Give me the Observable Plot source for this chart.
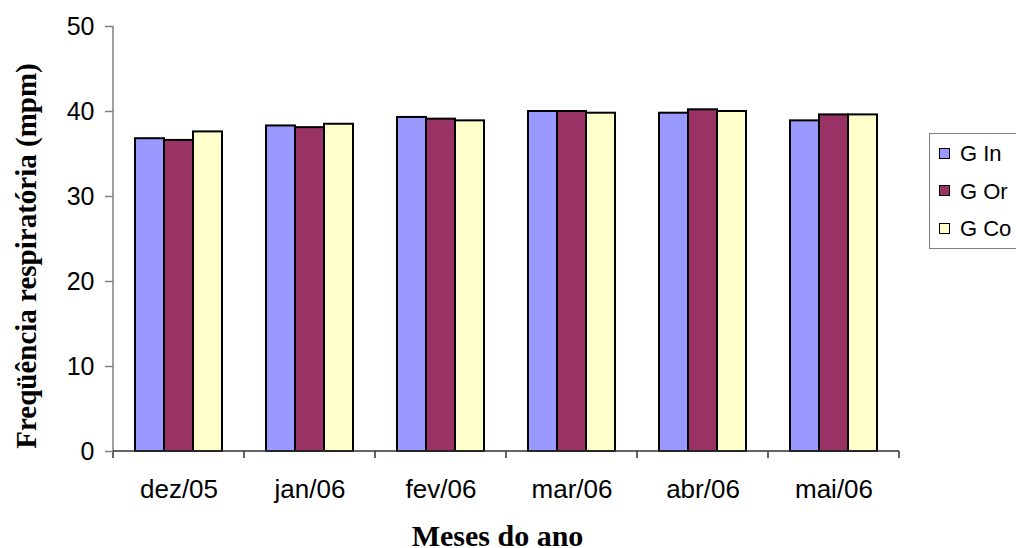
<!DOCTYPE html>
<html>
<head>
<meta charset="utf-8">
<script src="https://cdn.jsdelivr.net/npm/d3@7"></script>
<script src="https://cdn.jsdelivr.net/npm/@observablehq/plot@0.6"></script>
<style>
  html, body { margin: 0; padding: 0; background: #fff; overflow: hidden; }
  #chart { position: relative; width: 1016px; height: 548px; overflow: hidden; }
  #legend {
    position: absolute; left: 929px; top: 133px; width: 110px; height: 114px;
    border: 1px solid #808080; background: #fff;
    font-family: "Liberation Sans", Arial, sans-serif; font-size: 22px; color: #000;
  }
  #legend .item { position: absolute; left: 9px; height: 24px; line-height: 24px; white-space: nowrap; }
  #legend .swatch {
    display: inline-block; width: 9px; height: 9px; border: 1px solid #000;
    vertical-align: middle; margin-right: 10px; position: relative; top: -2px;
  }
</style>
</head>
<body>
<div id="chart"><div id="legend"></div></div>
<script>
// Respiratory rate (breaths per minute) by month for three groups
const months = ["dez/05", "jan/06", "fev/06", "mar/06", "abr/06", "mai/06"];
const series = ["G In", "G Or", "G Co"];
const gIn = [36.8, 38.3, 39.3, 40.0, 39.8, 38.9];
const gOr = [36.6, 38.1, 39.1, 40.0, 40.2, 39.6];
const gCo = [37.6, 38.5, 38.9, 39.8, 40.0, 39.6];
const yTicks = [0, 10, 20, 30, 40, 50];
const colors = ["#9999FF", "#993366", "#FFFFCC"];
const yTitle = "Freqüência respiratória (mpm)";
const xTitle = "Meses do ano";

const valuesBySeries = [gIn, gOr, gCo];
const rows = months.flatMap((month, i) =>
  series.map((s, j) => ({month, series: s, value: valuesBySeries[j][i]}))
);

// Axis lines plus the category-boundary ticks under the x axis,
// drawn once over the whole frame (not repeated per facet).
class AxisLines extends Plot.Mark {
  constructor() {
    super(undefined, {}, {facet: "super"});
  }
  render(index, scales, values, dimensions) {
    const {fx, y} = scales;
    const {width, marginRight} = dimensions;
    const g = d3.create("svg:g");
    const x0 = fx(months[0]);
    const x1 = width - marginRight;
    const yBase = y(0);
    g.append("line")
      .attr("x1", x0).attr("x2", x0)
      .attr("y1", y(yTicks[yTicks.length - 1])).attr("y2", yBase)
      .attr("stroke", "#808080").attr("stroke-width", 1.5);
    g.append("line")
      .attr("x1", x0).attr("x2", x1)
      .attr("y1", yBase).attr("y2", yBase)
      .attr("stroke", "#333").attr("stroke-width", 1.5);
    const bounds = months.map((m) => fx(m)).concat([x1]);
    g.selectAll("line.tick").data(bounds).join("line")
      .attr("class", "tick")
      .attr("x1", (d) => d).attr("x2", (d) => d)
      .attr("y1", yBase).attr("y2", yBase + 7)
      .attr("stroke", "#333").attr("stroke-width", 1.5);
    return g.node();
  }
}

const chart = Plot.plot({
  width: 1016,
  height: 548,
  marginLeft: 111,
  marginRight: 116,
  marginTop: 26,
  marginBottom: 97,
  style: {fontFamily: "'Liberation Sans', Arial, sans-serif", background: "#fff", color: "#000"},
  fx: {domain: months, padding: 0, label: null},
  x: {domain: series, paddingInner: 0, paddingOuter: 0.75, axis: null},
  y: {domain: [0, 50], axis: null},
  color: {domain: series, range: colors},
  marks: [
    Plot.barY(rows, {
      fx: "month", x: "series", y: "value",
      fill: "series", stroke: "#000", strokeWidth: 2
    }),
    new AxisLines(),
    Plot.axisY({
      ticks: yTicks, tickSize: 8, tickPadding: 11, fontSize: 25,
      stroke: "#808080", strokeWidth: 1.5, label: null, tickFormat: (d) => d
    }),
    Plot.axisFx({
      anchor: "bottom", tickSize: 0, tickPadding: 28, fontSize: 26, label: null
    }),
    Plot.text([yTitle], {
      facet: "super",
      frameAnchor: "left", textAnchor: "middle", rotate: -90,
      dx: -87, dy: 17, lineAnchor: "middle",
      fontFamily: "'Liberation Serif', 'Times New Roman', serif",
      fontWeight: "bold", fontSize: 29, fill: "#000"
    }),
    Plot.text([xTitle], {
      facet: "super",
      frameAnchor: "bottom", textAnchor: "middle", dx: -9, dy: 85, lineAnchor: "middle",
      fontFamily: "'Liberation Serif', 'Times New Roman', serif",
      fontWeight: "bold", fontSize: 30, fill: "#000"
    })
  ]
});

const container = document.getElementById("chart");
container.insertBefore(chart, container.firstChild);

// Legend box on the right
const legend = d3.select("#legend");
series.forEach((s, i) => {
  const item = legend.append("div").attr("class", "item")
    .style("top", `${8 + i * 37.5}px`);
  item.append("span").attr("class", "swatch").style("background", colors[i]);
  item.append("span").text(s);
});
</script>
</body>
</html>
